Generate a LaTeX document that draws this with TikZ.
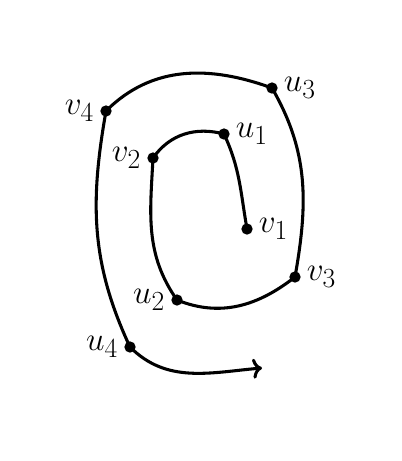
\documentclass[tikz,border=0pt]{standalone}
\usetikzlibrary{arrows.meta}
\DeclareMathSizes{27}{27}{22}{17}
\begin{document}
\begin{tikzpicture}[x=0.75pt,y=-0.75pt,
  pt/.style={circle,fill=black,inner sep=0pt,minimum size=8.5pt},
  lbl/.style={font=\fontsize{27}{32}\selectfont,label distance=1pt},
  curve/.style={line width=2.3pt,line cap=round,line join=round}]
\useasboundingbox (0,0) rectangle (402,461);
\node[pt,label={[lbl]right:$v_1$}] (v1) at (247,229) {};
\node[pt,label={[lbl]right:$u_1$}] (u1) at (224,134) {};
\node[pt,label={[lbl]left:$v_2$}] (v2) at (153,158) {};
\node[pt,label={[lbl]left:$u_2$}] (u2) at (177,300) {};
\node[pt,label={[lbl]right:$v_3$}] (v3) at (295,277) {};
\node[pt,label={[lbl]right:$u_3$}] (u3) at (272,88) {};
\node[pt,label={[lbl]left:$v_4$}] (v4) at (106,111) {};
\node[pt,label={[lbl]left:$u_4$}] (u4) at (130,347) {};
\coordinate (e) at (262,368);
\draw[curve,-{To[length=7pt,width=15pt]}]
  (v1.center) to[out=100,in=-65] (u1.center)
  to[out=165,in=55] (v2.center)
  to[out=-93,in=125] (u2.center)
  to[out=-22,in=-142] (v3.center)
  to[out=80,in=-60] (u3.center)
  to[out=160,in=45] (v4.center)
  to[out=-100,in=115] (u4.center)
  to[out=-45,in=185] (e);
\end{tikzpicture}
\end{document}
